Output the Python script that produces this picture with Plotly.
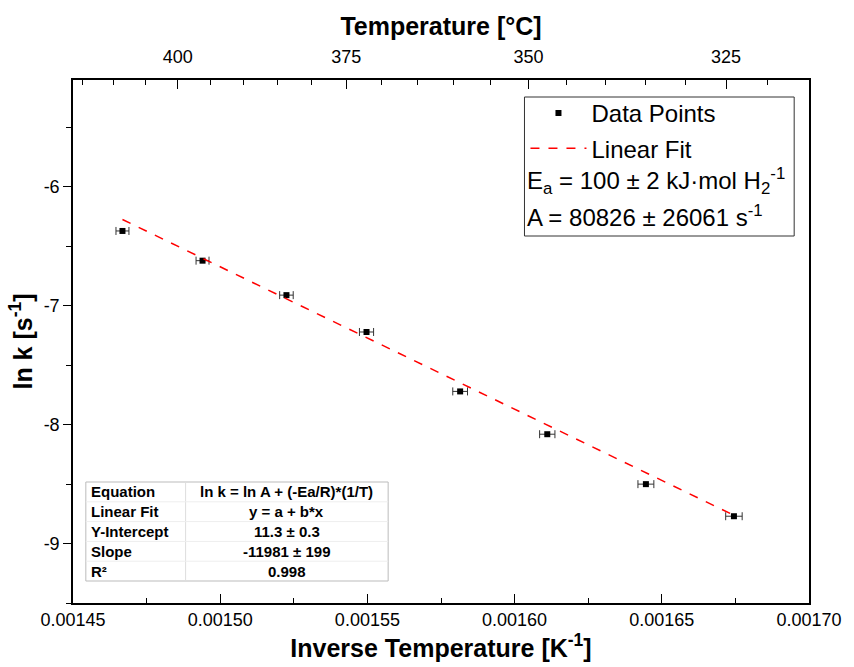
import plotly.graph_objects as go
import numpy as np

# ---- data ----
inv_T = [0.0014668, 0.0014940, 0.0015225, 0.0015497, 0.0015815, 0.0016111, 0.0016446, 0.0016745]
ln_k = [-6.37, -6.62, -6.91, -7.22, -7.72, -8.08, -8.50, -8.77]
inv_T_err = [2.2e-6, 2.2e-6, 2.3e-6, 2.4e-6, 2.5e-6, 2.6e-6, 2.7e-6, 2.8e-6]
fit_intercept = 11.3
fit_slope = -11981.0
x_ticks = [0.00145, 0.00150, 0.00155, 0.00160, 0.00165, 0.00170]
y_ticks = [-6, -7, -8, -9]
top_tick_C = [400, 375, 350, 325]
top_minor_C = [415, 410, 405, 395, 390, 385, 380, 370, 365, 360, 355, 345, 340, 335, 330, 320]
table_labels = ["Equation", "Linear Fit", "Y-Intercept", "Slope", "R²"]
table_values = ["ln k = ln A + (-Ea/R)*(1/T)", "y = a + b*x", "11.3 ± 0.3", "-11981 ± 199", "0.998"]
legend_extra = ["E<sub>a</sub> = 100 ± 2 kJ·mol H<sub>2</sub><sup>-1</sup>",
                "A = 80826 ± 26061 s<sup>-1</sup>"]

FONT = "Liberation Sans, Arial, sans-serif"
W, H = 854, 667
ML, MR, MT, MB = 73, 36, 80, 64
XR = [0.00145, 0.00170]
YR = [-9.5, -5.1]

def px(x):
    return (x - ML) / (W - ML - MR)

def py(y):
    return (H - MB - y) / (H - MT - MB)

fit_x = np.array([inv_T[0], inv_T[-1]])
fit_y = fit_intercept + fit_slope * fit_x

fig = go.Figure()
fig.add_trace(go.Scatter(
    x=inv_T, y=ln_k, mode="markers", name="Data Points",
    marker=dict(symbol="square", size=6, color="black"),
    error_x=dict(type="data", array=inv_T_err, color="#333333", thickness=1, width=4),
    legendgroup="a",
))
fig.add_trace(go.Scatter(
    x=fit_x, y=fit_y, mode="lines", name="Linear Fit",
    line=dict(color="#ff0000", width=1.5, dash="dash"),
    legendgroup="b",
))
# invisible trace to activate the top axis
fig.add_trace(go.Scatter(x=[XR[0]], y=[YR[0]], xaxis="x2", mode="markers",
                         marker=dict(opacity=0), showlegend=False, hoverinfo="skip"))

def kelvin_inv(c):
    return 1.0 / (c + 273.15)

shapes = []
annotations = []

# legend box
shapes.append(dict(type="rect", xref="paper", yref="paper",
                   x0=px(530), x1=px(803), y0=py(236), y1=py(97),
                   line=dict(color="#333333", width=1)))
for i, t in enumerate(legend_extra):
    annotations.append(dict(xref="paper", yref="paper", x=px(531), y=py(181 + 35 * i),
                            text=t, showarrow=False, xanchor="left", yanchor="middle",
                            font=dict(family=FONT, size=24, color="black")))

# table
tx0, tx1, ty0, ty1, tcol = 86, 392, 482, 581, 187
rowh = (ty1 - ty0) / len(table_labels)
shapes.append(dict(type="rect", xref="paper", yref="paper",
                   x0=px(tx0), x1=px(tx1), y0=py(ty1), y1=py(ty0),
                   line=dict(color="#bbbbbb", width=1), fillcolor="white", layer="above"))
shapes.append(dict(type="line", xref="paper", yref="paper",
                   x0=px(tcol), x1=px(tcol), y0=py(ty1), y1=py(ty0),
                   line=dict(color="#dddddd", width=1)))
for i in range(1, len(table_labels)):
    shapes.append(dict(type="line", xref="paper", yref="paper",
                       x0=px(tx0), x1=px(tx1), y0=py(ty0 + i * rowh), y1=py(ty0 + i * rowh),
                       line=dict(color="#eeeeee", width=1)))
for i, (lab, val) in enumerate(zip(table_labels, table_values)):
    yc = py(ty0 + (i + 0.5) * rowh)
    annotations.append(dict(xref="paper", yref="paper", x=px(tx0 + 3), y=yc, text="<b>%s</b>" % lab,
                            showarrow=False, xanchor="left", yanchor="middle",
                            font=dict(family=FONT, size=15, color="black")))
    annotations.append(dict(xref="paper", yref="paper", x=px((tcol + tx1) / 2), y=yc, text="<b>%s</b>" % val,
                            showarrow=False, xanchor="center", yanchor="middle",
                            font=dict(family=FONT, size=15, color="black")))

fig.update_layout(
    width=W, height=H,
    margin=dict(l=ML, r=MR, t=MT, b=MB),
    plot_bgcolor="white", paper_bgcolor="white",
    font=dict(family=FONT, size=18, color="black"),
    showlegend=True,
    legend=dict(x=px(531), y=py(91), xanchor="left", yanchor="top",
                font=dict(family=FONT, size=24, color="black"),
                bgcolor="rgba(0,0,0,0)", borderwidth=0,
                traceorder="grouped", tracegroupgap=1, itemwidth=56),
    xaxis=dict(range=XR, tickvals=x_ticks, ticktext=["%.5f" % v for v in x_ticks],
               ticks="inside", ticklen=9, tickwidth=1.2, tickcolor="black",
               minor=dict(dtick=0.000025, tick0=0.00145, ticks="inside", ticklen=5, tickcolor="black"),
               showline=True, linecolor="black", linewidth=1.5, showgrid=False, zeroline=False,
               tickfont=dict(size=18),
               title=dict(text="<b>Inverse Temperature [K<sup>-1</sup>]</b>", font=dict(size=25), standoff=4)),
    xaxis2=dict(range=XR, overlaying="x", side="top", anchor="y",
                tickvals=[kelvin_inv(c) for c in top_tick_C], ticktext=[str(c) for c in top_tick_C],
                ticks="inside", ticklen=9, tickwidth=1.2, tickcolor="black",
                minor=dict(tickmode="array", tickvals=[kelvin_inv(c) for c in top_minor_C],
                           ticks="inside", ticklen=5, tickcolor="black"),
                showline=True, linecolor="black", linewidth=1.5, showgrid=False, zeroline=False,
                tickfont=dict(size=18), ticklabelstandoff=8,
                title=dict(text="<b>Temperature [°C]</b>", font=dict(size=25), standoff=4)),
    yaxis=dict(range=YR, tickvals=y_ticks, ticktext=[str(v) for v in y_ticks],
               ticks="outside", ticklen=8, tickwidth=1.2, tickcolor="black",
               minor=dict(dtick=0.5, tick0=-9.5, ticks="outside", ticklen=5, tickcolor="black"),
               showline=True, mirror=True, linecolor="black", linewidth=1.5,
               showgrid=False, zeroline=False, tickfont=dict(size=18),
               title=dict(text="<b>ln k [s<sup>-1</sup>]</b>", font=dict(size=25), standoff=4)),
    shapes=shapes, annotations=annotations,
)

fig.write_html("out.html")
